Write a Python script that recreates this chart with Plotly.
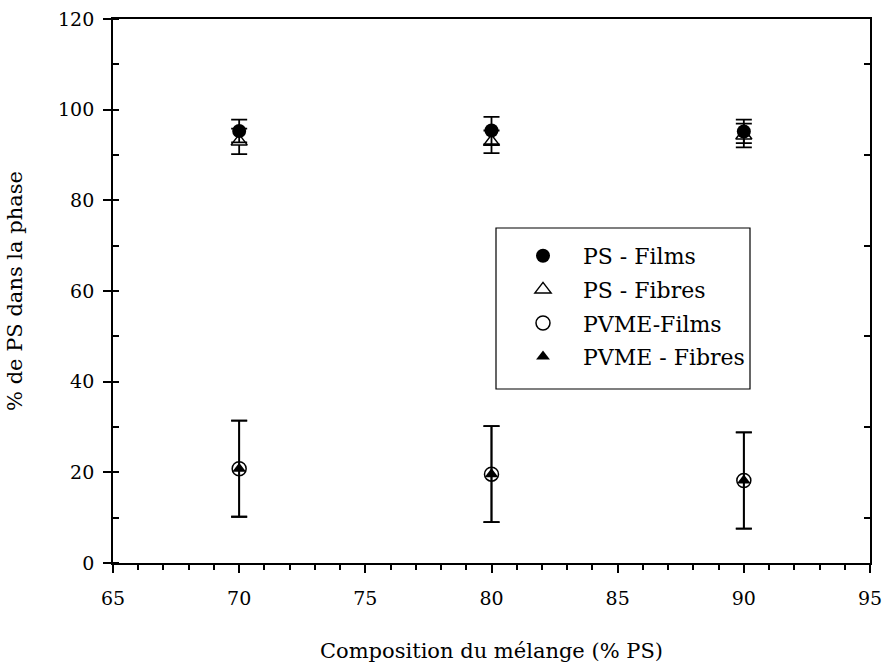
import plotly.graph_objects as go

compositions = [70, 80, 90]

ps_films = [95.3, 95.4, 95.2]
ps_films_err = [2.5, 3.0, 2.6]

ps_fibres = [93.0, 92.9, 94.3]
ps_fibres_err = [2.8, 2.5, 2.6]

pvme_films = [20.8, 19.6, 18.2]
pvme_films_err = [10.6, 10.6, 10.6]

pvme_fibres = [20.8, 19.6, 18.2]
pvme_fibres_err = [10.6, 10.6, 10.6]

FONT = "DejaVu Serif"

L, R, T, B = 113, 870, 19, 563
PW, PH = R - L, B - T

fig = go.Figure()

def err(vals):
    return dict(type="data", array=vals, visible=True, color="black",
                thickness=1.8, width=8)

fig.add_trace(go.Scatter(
    x=compositions, y=pvme_fibres, mode="markers", name="PVME - Fibres",
    marker=dict(symbol="triangle-up", size=12, color="black"),
    error_y=err(pvme_fibres_err), legendrank=4, legendgroup="d"))
fig.add_trace(go.Scatter(
    x=compositions, y=pvme_films, mode="markers", name="PVME-Films",
    marker=dict(symbol="circle-open", size=14, color="black", line=dict(width=1.5)),
    error_y=err(pvme_films_err), legendrank=3, legendgroup="c"))
fig.add_trace(go.Scatter(
    x=compositions, y=ps_fibres, mode="markers", name="PS - Fibres",
    marker=dict(symbol="triangle-up", size=14, color="white",
                line=dict(color="black", width=1.5)),
    error_y=err(ps_fibres_err), legendrank=2, legendgroup="b"))
fig.add_trace(go.Scatter(
    x=compositions, y=ps_films, mode="markers", name="PS - Films",
    marker=dict(symbol="circle", size=14, color="black"),
    error_y=err(ps_films_err), legendrank=1, legendgroup="a"))
# carrier for the right-hand minor ticks (no visible marks)
fig.add_trace(go.Scatter(
    x=compositions, y=ps_films, yaxis="y2", mode="markers", showlegend=False,
    hoverinfo="skip", marker=dict(opacity=0)))

fig.update_layout(
    width=885, height=664,
    margin=dict(l=L, r=885 - R, t=T, b=664 - B),
    paper_bgcolor="white", plot_bgcolor="white",
    font=dict(family=FONT, size=20, color="black"),
    showlegend=True,
    legend=dict(
        x=(503 - L) / PW, y=1 - (235 - T) / PH, xanchor="left", yanchor="top",
        bgcolor="rgba(0,0,0,0)", borderwidth=0,
        font=dict(family=FONT, size=22), itemwidth=70,
        traceorder="grouped", tracegroupgap=2,
    ),
    shapes=[dict(type="rect", xref="paper", yref="paper",
                 x0=(496 - L) / PW, x1=(750 - L) / PW,
                 y0=1 - (389 - T) / PH, y1=1 - (228 - T) / PH,
                 line=dict(color="black", width=1.2), fillcolor="white", layer="below")],
    xaxis=dict(
        range=[65, 95], dtick=5, tick0=65, automargin=False,
        showline=True, linecolor="black", linewidth=1.8, mirror=True,
        ticks="outside", ticklen=8, tickwidth=1.5, tickcolor="black",
        minor=dict(ticks="outside", dtick=1, ticklen=5, tickwidth=1.5, tickcolor="black"),
        showgrid=False, zeroline=False,
        tickfont=dict(family=FONT, size=19), ticklabelstandoff=9,
        title=dict(text="Composition du mélange (% PS)", font=dict(family=FONT, size=21), standoff=36),
    ),
    yaxis=dict(
        range=[0, 120], dtick=20, tick0=0, automargin=False,
        showline=True, linecolor="black", linewidth=1.8, mirror=True,
        ticks="outside", ticklen=8, tickwidth=1.5, tickcolor="black",
        minor=dict(ticks="inside", dtick=10, ticklen=6, tickwidth=1.5, tickcolor="black"),
        showgrid=False, zeroline=False,
        tickfont=dict(family=FONT, size=19), ticklabelstandoff=5,
        title=dict(text="% de PS dans la phase", font=dict(family=FONT, size=21), standoff=30),
    ),
    yaxis2=dict(
        overlaying="y", side="right", range=[0, 120], anchor="x", automargin=False,
        showticklabels=False, ticks="", showline=False, showgrid=False, zeroline=False,
        tickmode="linear", dtick=20, tick0=0,
        minor=dict(ticks="inside", dtick=10, ticklen=6, tickwidth=1.5,
                   tickcolor="black", showgrid=False),
    ),
)

fig.write_html("out.html")
